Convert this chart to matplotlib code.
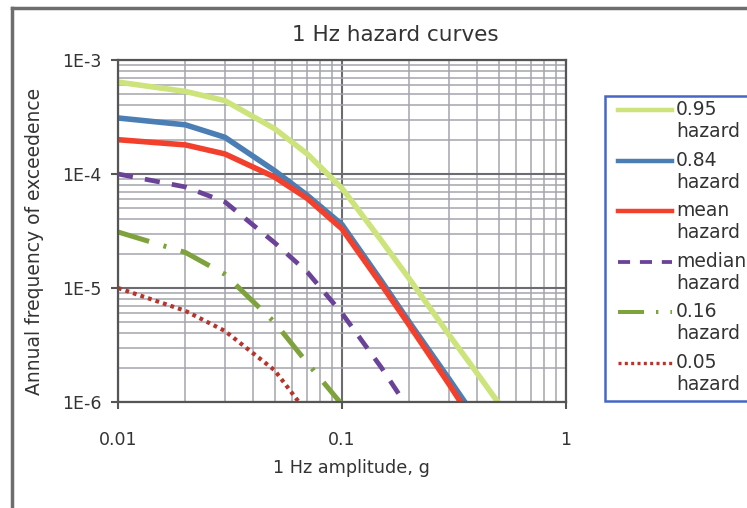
import matplotlib
matplotlib.use('Agg')
import matplotlib.pyplot as plt
from matplotlib.lines import Line2D
from matplotlib.patches import Rectangle

amp = [0.01, 0.02, 0.03, 0.05, 0.07, 0.1, 0.15, 0.2, 0.3, 0.4, 0.5, 0.7]

haz_95 = [6.4e-4, 5.3e-4, 4.4e-4, 2.5e-4, 1.5e-4, 7.5e-5, 2.6e-5, 1.2e-5, 3.9e-6, 1.8e-6, 9.8e-7, 4e-7]
haz_84 = [3.1e-4, 2.7e-4, 2.1e-4, 1.07e-4, 6.5e-5, 3.6e-5, 1.15e-5, 5.0e-6, 1.6e-6, 7e-7]
haz_mean = [2.0e-4, 1.8e-4, 1.5e-4, 9.4e-5, 6.1e-5, 3.3e-5, 1.07e-5, 4.7e-6, 1.44e-6, 6e-7]
haz_median = [1.0e-4, 7.7e-5, 5.7e-5, 2.5e-5, 1.38e-5, 6e-6, 2.0e-6, 8.5e-7]
haz_16 = [3.1e-5, 2.05e-5, 1.32e-5, 5.0e-6, 2.2e-6, 9.5e-7, 3e-7]
haz_05 = [1.0e-5, 6.3e-6, 4.2e-6, 1.9e-6, 8e-7]

labels = ['0.95\nhazard', '0.84\nhazard', 'mean\nhazard', 'median\nhazard', '0.16\nhazard', '0.05\nhazard']
xticks = [0.01, 0.1, 1]
xticklabels = ['0.01', '0.1', '1']
yticks = [1e-6, 1e-5, 1e-4, 1e-3]
yticklabels = ['1E-6', '1E-5', '1E-4', '1E-3']

W, H = 747, 508
fig = plt.figure(figsize=(W / 100, H / 100), dpi=100)
fig.patch.set_facecolor('white')

def fx(px):
    return px / W

def fy(py):
    return 1 - py / H

ax = fig.add_axes([fx(118), fy(402), 448 / W, 342 / H])

styles = [
    dict(color='#cde47c', lw=4.0, ls='-'),
    dict(color='#4a7eb4', lw=4.0, ls='-'),
    dict(color='#f2402c', lw=4.0, ls='-'),
    dict(color='#6a4399', lw=3.4, ls=(0, (3.2, 2.6))),
    dict(color='#7fa33c', lw=3.6, ls=(0, (6.5, 3.0, 0.6, 3.0))),
    dict(color='#b8332c', lw=3.0, ls=(0, (0.9, 1.0))),
]
series = [haz_95, haz_84, haz_mean, haz_median, haz_16, haz_05]

for vals, st in zip(series, styles):
    cap = 'round' if st['ls'] == '-' else 'butt'
    ax.plot(amp[:len(vals)], vals, color=st['color'], lw=st['lw'], ls=st['ls'],
            solid_capstyle='round', solid_joinstyle='round', dash_capstyle=cap)

ax.set_xscale('log')
ax.set_yscale('log')
ax.set_xlim(0.01, 1)
ax.set_ylim(1e-6, 1e-3)
ax.set_xticks(xticks, labels=xticklabels)
ax.set_yticks(yticks, labels=yticklabels)
ax.set_axisbelow(True)
ax.grid(which='minor', color='#a4a5ad', lw=1.1)
ax.grid(which='major', color='#6c6c70', lw=1.5)
ax.tick_params(which='major', length=5, width=1.5, color='#555555',
               labelsize=12.5, labelcolor='#333333')
ax.tick_params(axis='x', pad=16)
ax.tick_params(axis='y', pad=7)
ax.tick_params(which='minor', length=0)
for sp in ax.spines.values():
    sp.set_color('#555555')
    sp.set_linewidth(1.6)

fig.text(fx(395), fy(35), '1 Hz hazard curves', ha='center', va='center',
         fontsize=15.5, color='#333333')
fig.text(fx(351), fy(468), '1 Hz amplitude, g', ha='center', va='center',
         fontsize=12.7, color='#333333')
fig.text(fx(35), fy(241), 'Annual frequency of exceedence', ha='center', va='center',
         rotation=90, fontsize=13.5, color='#333333')

# outer chart frame
fig.add_artist(Line2D([fx(12), fx(760)], [fy(8), fy(8)], color='#6e6e6e', lw=2.5))
fig.add_artist(Line2D([fx(12), fx(12)], [fy(8), fy(520)], color='#6e6e6e', lw=2.5))

# legend
fig.add_artist(Rectangle((fx(605), fy(401)), fx(170), 305 / H, facecolor='white',
                         edgecolor='#4766c6', lw=1.8, clip_on=False))
for i, (lab, st) in enumerate(zip(labels, styles)):
    y = 110 + i * 50.6
    cap = 'round' if st['ls'] == '-' else 'butt'
    fig.add_artist(Line2D([fx(618), fx(672)], [fy(y), fy(y)], color=st['color'],
                          lw=st['lw'] * 0.8, ls=st['ls'], dash_capstyle=cap))
    fig.text(fx(676), fy(y - 10), lab, ha='left', va='top', fontsize=13.5,
             color='#333333', linespacing=1.2)

fig.savefig('out.png', dpi=100)
